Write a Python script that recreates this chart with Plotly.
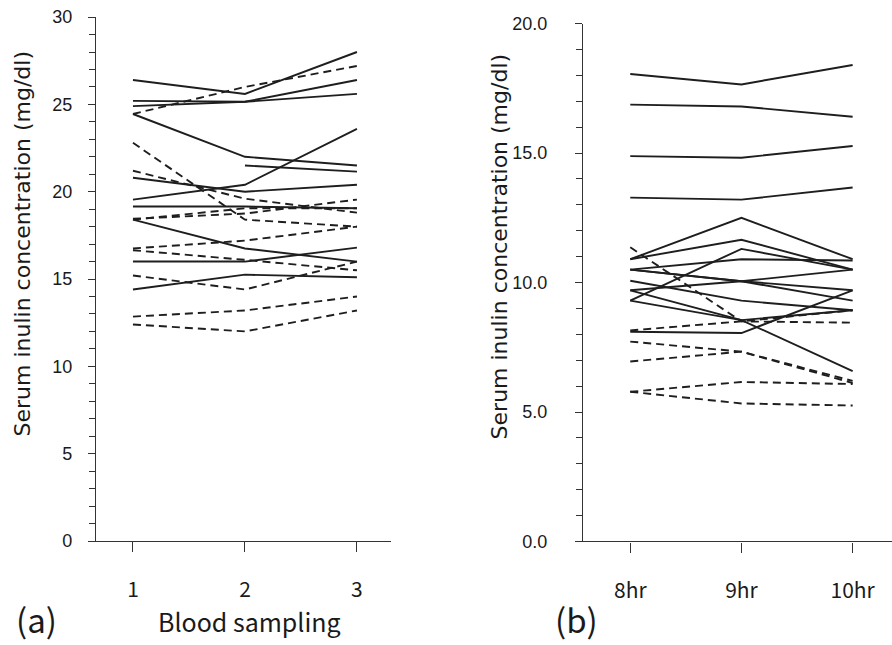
import plotly.graph_objects as go

# ---------------- data ----------------
# Panel (a): blood sampling 1, 2, 3
sampling = [1, 2, 3]
a_solid = [
    [26.4, 25.6, 28.0],
    [25.2, 25.15, 26.4],
    [24.9, 25.15, 25.6],
    [24.45, 22.0, 21.5],
    [None, 21.5, 21.15],
    [19.55, 20.4, 23.6],
    [20.8, 20.0, 20.4],
    [19.15, 19.15, 19.05],
    [18.4, 16.75, 16.0],
    [16.0, 16.0, 16.8],
    [14.4, 15.25, 15.1],
]
a_dashed = [
    [24.45, 26.0, 27.2],
    [22.8, 18.4, 18.0],
    [21.2, 19.6, 18.8],
    [18.45, 18.75, 19.55],
    [18.4, 19.05, 19.05],
    [16.75, 17.2, 18.0],
    [16.65, 16.1, 15.5],
    [15.2, 14.4, 16.0],
    [12.85, 13.2, 14.0],
    [12.4, 12.0, 13.2],
]

# Panel (b): 8hr, 9hr, 10hr
hours = [8, 9, 10]
hour_labels = ["8hr", "9hr", "10hr"]
b_solid = [
    [18.05, 17.65, 18.4],
    [16.87, 16.8, 16.4],
    [14.88, 14.82, 15.27],
    [13.28, 13.2, 13.67],
    [10.9, 12.5, 10.9],
    [10.9, 11.65, 10.5],
    [9.3, 11.3, 10.5],
    [10.5, 10.9, 10.85],
    [10.5, 10.05, 9.7],
    [10.5, 10.05, 9.3],
    [9.7, 10.05, 10.5],
    [10.07, 9.3, 8.93],
    [9.7, 8.55, 6.58],
    [9.3, 8.55, 8.93],
    [8.1, 8.05, 9.7],
]
b_dashed = [
    [11.36, 8.5, 8.45],
    [8.15, 8.5, 8.93],
    [7.72, 7.33, 6.2],
    [6.95, 7.33, 6.12],
    [5.78, 6.16, 6.08],
    [5.78, 5.33, 5.25],
]

y_title = "Serum inulin concentration (mg/dl)"

# ---------------- figure ----------------
LC = "#1e1e1e"
fig = go.Figure()


def add_lines(xs, series, dash, xa, ya):
    for ys in series:
        fig.add_trace(go.Scatter(
            x=xs, y=ys, mode="lines", xaxis=xa, yaxis=ya,
            line=dict(color=LC, width=1.9, dash=dash),
            connectgaps=False, showlegend=False, hoverinfo="skip"))


add_lines(sampling, a_solid, "solid", "x", "y")
add_lines(sampling, a_dashed, "8px,5px", "x", "y")
add_lines(hours, b_solid, "solid", "x2", "y2")
add_lines(hours, b_dashed, "8px,5px", "x2", "y2")

W, H = 892, 645
tickfont_y = dict(family="Liberation Sans", size=18, color="#1a1a1a")
tickfont_x = dict(family="Noto Sans CJK JP", size=21, color="#1a1a1a")
axis_common = dict(showgrid=False, zeroline=False, showline=True,
                   linecolor="#333", linewidth=1.3, tickcolor="#333")

fig.update_layout(
    width=W, height=H,
    margin=dict(l=0, r=0, t=0, b=0),
    paper_bgcolor="white", plot_bgcolor="white",
    xaxis=dict(domain=[96 / W, 391 / W], range=[0.670, 3.304],
               tickvals=sampling, ticks="outside", ticklen=10,
               tickfont=tickfont_x, ticklabelstandoff=20,
               anchor="y", **axis_common),
    yaxis=dict(domain=[1 - 548 / H, 1 - 7.3 / H], range=[0, 30],
               dtick=5, ticks="outside", ticklen=7,
               minor=dict(dtick=1, ticks="outside", ticklen=6, tickcolor="#333"),
               tickfont=tickfont_y, ticklabelstandoff=12,
               anchor="x", **axis_common),
    xaxis2=dict(domain=[583 / W, 1.0], range=[7.575, 10.354],
                tickvals=hours, ticktext=hour_labels, ticks="outside", ticklen=10,
                tickfont=tickfont_x, ticklabelstandoff=20,
                anchor="y2", **axis_common),
    yaxis2=dict(domain=[1 - 548.5 / H, 1 - 14 / H], range=[0, 20],
                dtick=5, tickformat=".1f", ticks="outside", ticklen=7,
                minor=dict(dtick=1, ticks="outside", ticklen=6, tickcolor="#333"),
                tickfont=tickfont_y, ticklabelstandoff=24,
                anchor="x2", **axis_common),
)

ann_font = dict(family="DejaVu Sans", size=22, color="#1a1a1a")
fig.add_annotation(text=y_title, x=22 / W, y=1 - 242 / H, xref="paper", yref="paper",
                   textangle=-90, showarrow=False, font=ann_font,
                   xanchor="center", yanchor="middle")
fig.add_annotation(text=y_title, x=499 / W, y=1 - 245 / H, xref="paper", yref="paper",
                   textangle=-90, showarrow=False, font=ann_font,
                   xanchor="center", yanchor="middle")
fig.add_annotation(text="Blood sampling", x=250 / W, y=1 - 631 / H, xref="paper", yref="paper",
                   showarrow=False, xanchor="center", yanchor="middle",
                   font=dict(family="Noto Sans CJK JP", size=25, color="#1a1a1a"))
fig.add_annotation(text="(a)", x=36 / W, y=1 - 629 / H, xref="paper", yref="paper",
                   showarrow=False, xanchor="center", yanchor="middle",
                   font=dict(family="Noto Sans CJK JP", size=33, color="#1a1a1a"))
fig.add_annotation(text="(b)", x=576 / W, y=1 - 629 / H, xref="paper", yref="paper",
                   showarrow=False, xanchor="center", yanchor="middle",
                   font=dict(family="Noto Sans CJK JP", size=33, color="#1a1a1a"))

fig.write_html("out.html", config={"displayModeBar": False},
               post_script="document.body.style.margin='0';document.body.style.overflow='hidden';")
